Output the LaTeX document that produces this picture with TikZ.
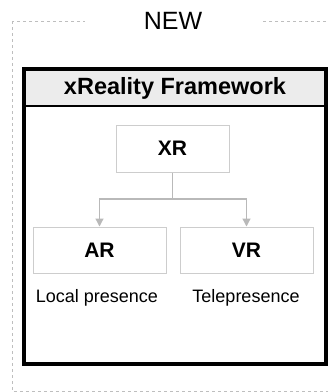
\documentclass[tikz,border=0pt]{standalone}
\usepackage{fontspec}
\setmainfont{Liberation Sans}
\usepackage{tikz}
\usetikzlibrary{arrows.meta, positioning}
\definecolor{framegray}{RGB}{190, 190, 190}
\definecolor{boxgray}{RGB}{205, 205, 205}
\definecolor{linkgray}{RGB}{185, 185, 185}
\definecolor{headgray}{RGB}{236, 236, 236}

\begin{document}
\begin{tikzpicture}[x=1pt, y=-1pt,
  concept/.style={rectangle, draw=boxgray, line width=1pt, fill=white, inner sep=0pt,
    font=\fontsize{21}{24}\selectfont\bfseries},
  caption/.style={font=\fontsize{18}{21}\selectfont},
  link/.style={draw=linkgray, line width=1.2pt, -{Triangle[width=8pt,length=8pt]}}]

\useasboundingbox (0,0) rectangle (328,392);

% Outer dashed frame (runs off the right edge)
\begin{scope}
\clip (0,0) rectangle (328,392);
\draw[framegray, dashed, line width=0.8pt] (12,21) rectangle (345,391);
\end{scope}
\node[fill=white, minimum width=177pt, inner sep=0pt, font=\fontsize{25}{28}\selectfont] at (173,21) (new) {NEW};

% Framework box with header band
\node[rectangle, draw=black, line width=2.6pt, fill=white, minimum width=300pt, minimum height=293pt, inner sep=0pt] at (175,216.5) (fw) {};
\node[rectangle, draw=black, line width=1.6pt, fill=headgray, minimum width=300pt, minimum height=36pt, inner sep=0pt, font=\fontsize{23.5}{26}\selectfont\bfseries] at (175,88) (hdr) {xReality Framework};
\draw[black, line width=2.6pt] (fw.north west) rectangle (fw.south east);

% Concepts
\node[concept, minimum width=113pt, minimum height=47pt] at (172.5,148.5) (xr) {XR};
\node[concept, minimum width=133pt, minimum height=46pt] at (99.5,250) (ar) {AR};
\node[concept, minimum width=133pt, minimum height=46pt] at (246.5,250) (vr) {VR};

% Captions
\node[caption] at (97,298) (local) {Local presence};
\node[caption] at (246,298) (tele) {Telepresence};

% Connections: XR to AR and VR
\coordinate (split) at (172.5,199);
\draw[draw=linkgray, line width=1.2pt] (xr) -- (split);
\draw[link] (split) -| (ar);
\draw[link] (split) -| (vr);
\end{tikzpicture}
\end{document}
